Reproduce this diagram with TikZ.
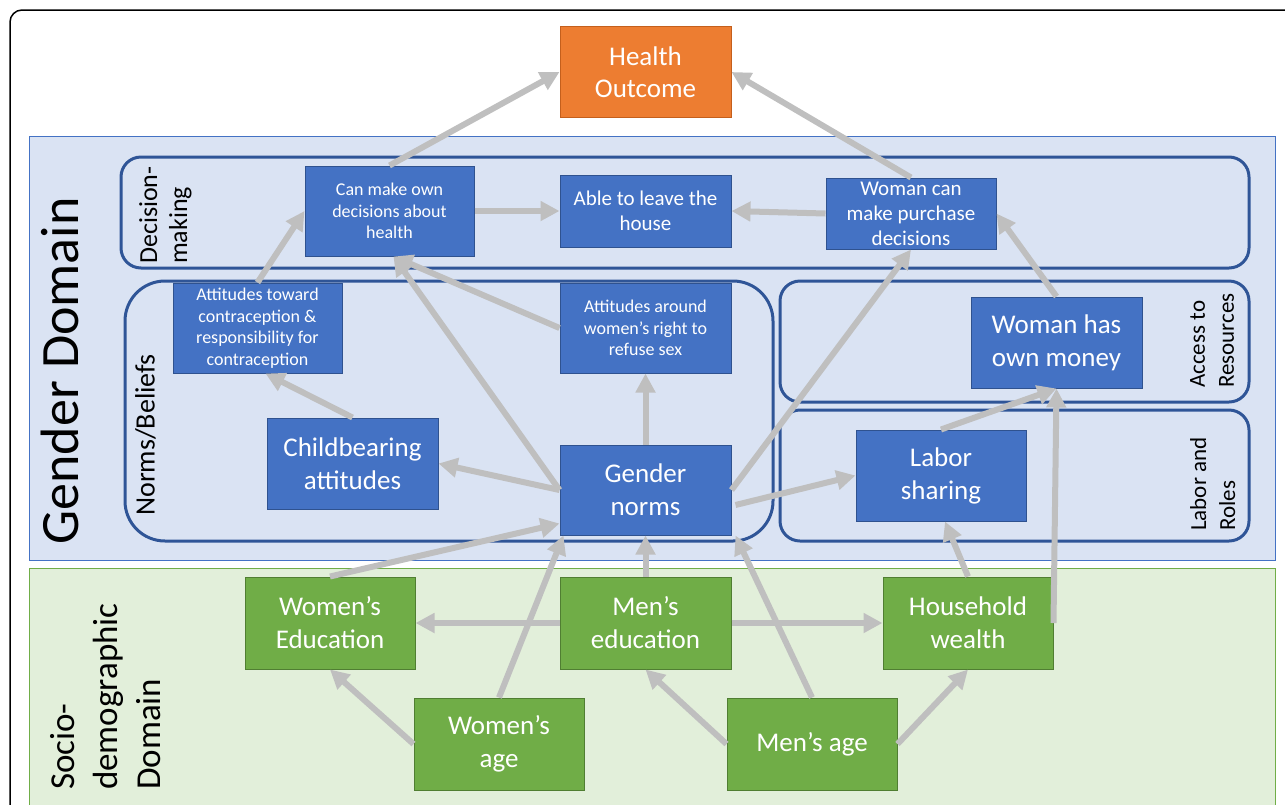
\documentclass[tikz,border=0pt]{standalone}
\usepackage{fontspec}
\setmainfont{Carlito}
\usetikzlibrary{arrows.meta,positioning}
\definecolor{healthorange}{HTML}{ED7D31}
\definecolor{healthedge}{HTML}{C45F1C}
\definecolor{nodeblue}{HTML}{4472C4}
\definecolor{nodeblueedge}{HTML}{2F528F}
\definecolor{groupblue}{HTML}{2F5597}
\definecolor{genderfill}{HTML}{DAE3F3}
\definecolor{genderedge}{HTML}{4472C4}
\definecolor{sociofill}{HTML}{E2EFDA}
\definecolor{socioedge}{HTML}{70AD47}
\definecolor{nodegreen}{HTML}{70AD47}
\definecolor{nodegreenedge}{HTML}{507E32}
\definecolor{arrowgray}{HTML}{BFBFBF}

\begin{document}
\begin{tikzpicture}[x=1pt,y=-1pt,
  nodebox/.style={draw,line width=1pt,inner sep=0pt,align=center,text=white,
    minimum width=171pt,minimum height=91pt},
  bluebox/.style={nodebox,fill=nodeblue,draw=nodeblueedge},
  greenbox/.style={nodebox,fill=nodegreen,draw=nodegreenedge},
  groupframe/.style={draw=groupblue,line width=3pt,rounded corners=#1},
  grouplabel/.style={rotate=90,anchor=north west,align=left,inner sep=0pt},
  link/.style={draw=arrowgray,line width=6pt,-{Triangle[length=19pt,width=19pt]}},
  bigtext/.style={font=\fontsize{27}{33}\selectfont},
  midtext/.style={font=\fontsize{21}{25}\selectfont},
  smalltext/.style={font=\fontsize{18}{21.5}\selectfont}]
\useasboundingbox (0,0) rectangle (1285,804);
\clip (0,0) rectangle (1285,804);
\draw [line width=1.5pt,rounded corners=12pt] (10,10) rectangle (1320,840);

% domains
\draw [fill=genderfill,draw=genderedge,line width=1pt] (29,136) rectangle (1275,560);
\draw [fill=sociofill,draw=socioedge,line width=1pt] (29,568) rectangle (1275,850);
\node [rotate=90,inner sep=0pt,font=\fontsize{54}{60}\selectfont] (genderlabel) at (60,371) {Gender Domain};
\node [grouplabel,font=\fontsize{35}{43}\selectfont] (sociolabel) at (50,790) {Socio-\\demographic\\Domain};

% groups
\draw [groupframe=20pt] (121,157) rectangle (1249,268);
\draw [groupframe=40pt] (125,281) rectangle (773,541);
\draw [groupframe=20pt] (780,281) rectangle (1249,402);
\draw [groupframe=20pt] (780,410) rectangle (1249,541);
\node [grouplabel,font=\fontsize{26}{30}\selectfont] (decisionlabel) at (139,264) {Decision-\\making};
\node [grouplabel,font=\fontsize{28}{30}\selectfont] (normslabel) at (135,516) {Norms/Beliefs};
\node [grouplabel,font=\fontsize{23}{29}\selectfont] (accesslabel) at (1190,388) {Access to\\Resources};
\node [grouplabel,font=\fontsize{23}{29}\selectfont] (laborlabel) at (1190,531) {Labor and\\Roles};

% outcome
\node [nodebox,fill=healthorange,draw=healthedge,font=\fontsize{27}{32}\selectfont] (health) at (645.5,72) {Health\\Outcome};

% gender domain
\node [bluebox,smalltext,minimum width=169pt,minimum height=90pt] (canmake) at (389.5,211) {Can make own\\decisions about\\health};
\node [bluebox,midtext,minimum height=72pt] (leave) at (645.5,211) {Able to leave the\\house};
\node [bluebox,midtext,minimum width=170pt,minimum height=71pt] (purchase) at (911,213.5) {Woman can\\make purchase\\decisions};
\node [bluebox,smalltext,minimum width=169pt,minimum height=90pt] (contra) at (257.5,328) {Attitudes toward\\contraception \&\\responsibility for\\contraception};
\node [bluebox,smalltext,minimum height=90pt] (refuse) at (645.5,328) {Attitudes around\\women’s right to\\refuse sex};
\node [bluebox,bigtext] (childbearing) at (352.5,463.5) {Childbearing\\attitudes};
\node [bluebox,bigtext,minimum height=90pt] (gnorms) at (645.5,490) {Gender\\norms};
\node [bluebox,bigtext] (money) at (1056.5,342.5) {Woman has\\own money};
\node [bluebox,bigtext,minimum width=170pt] (labor) at (941,475.5) {Labor\\sharing};

% socio-demographic domain
\node [greenbox,bigtext,minimum width=170pt,minimum height=92pt] (wedu) at (330,623) {Women’s\\Education};
\node [greenbox,bigtext,minimum height=92pt] (medu) at (645.5,623) {Men’s\\education};
\node [greenbox,bigtext,minimum width=170pt,minimum height=92pt] (wealth) at (968,623) {Household\\wealth};
\node [greenbox,bigtext,minimum width=170pt,minimum height=92pt] (wage) at (499,744) {Women’s\\age};
\node [greenbox,bigtext,minimum width=170pt,minimum height=92pt] (mage) at (812,744) {Men’s age};

% arrows
\draw [link] (canmake.north) -- (health.west);
\draw [link] (purchase.north) -- (health.east);
\draw [link] (canmake.east) -- (leave.west);
\draw [link] (purchase.west) -- (leave.east);
\draw [link] (contra.north) -- (canmake.west);
\draw [link] (childbearing.north) -- ([xshift=8pt]contra.south);
\draw [link] (refuse.west) -- ([xshift=4pt]canmake.south);
\draw [link] (gnorms.west) -- ([xshift=4pt]canmake.south);
\draw [link] (gnorms.north) -- (refuse.south);
\draw [link] (gnorms.west) -- (childbearing.east);
\draw [link] (gnorms.east) -- (purchase.south);
\draw [link] ([xshift=4pt,yshift=-15pt]gnorms.east) -- (labor.west);
\draw [link] (money.north) -- (purchase.east);
\draw [link] (labor.north) -- (money.south);
\draw [link] (wealth.east) -- (money.south);
\draw [link] (wealth.north) -- ([xshift=4pt]labor.south);
\draw [link] (wedu.north) -- ([yshift=12pt]gnorms.south west);
\draw [link] (wage.north) -- ([xshift=4pt]gnorms.south west);
\draw [link] (medu.north) -- (gnorms.south);
\draw [link] (mage.north) -- ([xshift=4pt]gnorms.south east);
\draw [link] (medu.west) -- (wedu.east);
\draw [link] (medu.east) -- (wealth.west);
\draw [link] (wage.west) -- (wedu.south);
\draw [link] (mage.west) -- (medu.south);
\draw [link] (mage.east) -- (wealth.south);
\end{tikzpicture}
\end{document}
